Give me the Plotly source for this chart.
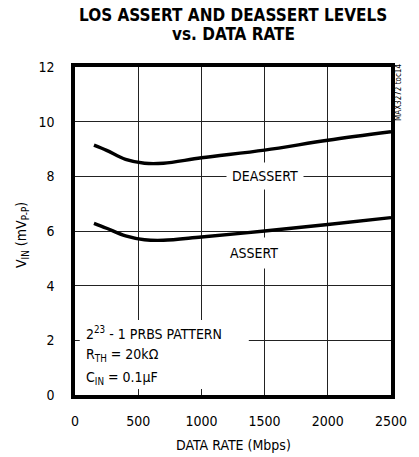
import plotly.graph_objects as go

rate = [150, 250, 400, 550, 700, 1000, 1500, 2000, 2500]
deassert = [9.14, 8.95, 8.62, 8.48, 8.48, 8.68, 8.96, 9.32, 9.63]
assert_lvl = [6.28, 6.10, 5.82, 5.68, 5.66, 5.78, 6.00, 6.24, 6.49]

x_ticks = [0, 500, 1000, 1500, 2000, 2500]
y_ticks = [0, 2, 4, 6, 8, 10, 12]

FONT = "DejaVu Sans Condensed, Liberation Sans Narrow, sans-serif"

fig = go.Figure()
for ys in (deassert, assert_lvl):
    fig.add_trace(go.Scatter(x=rate, y=ys, mode="lines",
                             line=dict(color="black", width=3.4, shape="spline", smoothing=1.0),
                             showlegend=False, hoverinfo="skip"))

fig.update_layout(
    width=419, height=457,
    margin=dict(l=75, r=16, t=67, b=62),
    paper_bgcolor="white", plot_bgcolor="white",
    font=dict(family=FONT, size=13, color="black"),
)
fig.update_xaxes(range=[0, 2500], tickvals=x_ticks, showgrid=True, gridcolor="#222", gridwidth=1,
                 showline=True, linecolor="black", linewidth=3.5, mirror=True, zeroline=False,
                 ticks="", ticklabelstandoff=10, tickfont=dict(size=14),
                 ticklabeloverflow="allow")
fig.update_yaxes(range=[0, 12], tickvals=y_ticks, showgrid=True, gridcolor="#222", gridwidth=1,
                 showline=True, linecolor="black", linewidth=3.5, mirror=True, zeroline=False,
                 ticks="", ticklabelstandoff=14, tickfont=dict(size=14))

# title lines
fig.add_annotation(xref="paper", yref="paper", x=0.5, y=1, yshift=52, yanchor="middle",
                   text="<b>LOS ASSERT AND DEASSERT LEVELS</b>", showarrow=False,
                   font=dict(size=17))
fig.add_annotation(xref="paper", yref="paper", x=0.5, y=1, yshift=33, yanchor="middle",
                   text="<b>vs. DATA RATE</b>", showarrow=False, font=dict(size=17))
# axis titles
fig.add_annotation(xref="paper", yref="paper", x=0.5, y=0, yshift=-50, yanchor="middle",
                   text="DATA RATE (Mbps)", showarrow=False, font=dict(size=14))
fig.add_annotation(xref="paper", yref="paper", x=0, xshift=-53, xanchor="center", y=0.5, yshift=-4,
                   text="V<sub>IN</sub> (mV<sub>P-P</sub>)", textangle=-90, showarrow=False,
                   font=dict(size=14))

# curve labels
fig.add_annotation(x=1500, y=8, text="DEASSERT", showarrow=False, bgcolor="white",
                   borderpad=5, font=dict(size=14))
fig.add_annotation(x=1420, y=5.2, text="ASSERT", showarrow=False, bgcolor="white",
                   borderpad=7, font=dict(size=14))

# conditions box
fig.add_shape(type="rect", xref="paper", yref="paper", x0=0.015, x1=0.55, y0=0.018, y1=0.229,
              fillcolor="white", line=dict(width=0), layer="above")
cond_lines = ["2<sup>23</sup> - 1 PRBS PATTERN", "R<sub>TH</sub> = 20kΩ", "C<sub>IN</sub> = 0.1µF"]
cond_y = [2.27, 1.46, 0.64]
for txt, yy in zip(cond_lines, cond_y):
    fig.add_annotation(xref="paper", yref="y", x=0.03, y=yy, xanchor="left", yanchor="middle",
                       text=txt, showarrow=False, align="left", font=dict(size=14))

fig.add_annotation(xref="paper", yref="paper", x=1.0, y=1.0, xanchor="left", yanchor="top",
                   xshift=1, yshift=5, text="MAX3272 toc14", textangle=-90, showarrow=False,
                   font=dict(size=8))

fig.write_html("out.html", config={"displayModeBar": False},
               post_script="document.body.style.margin='0px';")
